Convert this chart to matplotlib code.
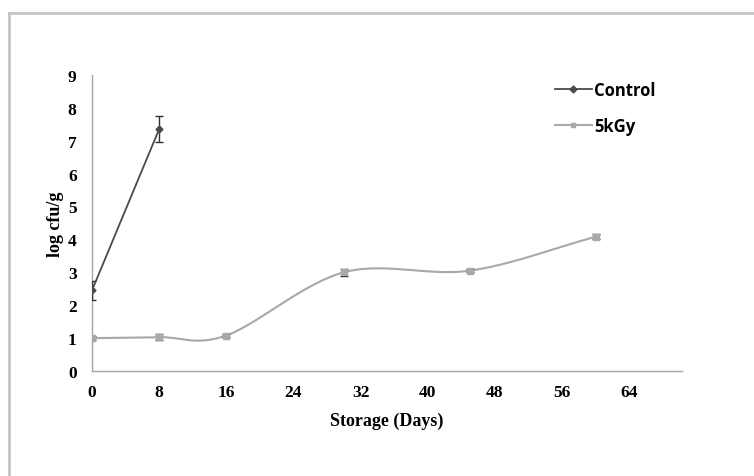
import matplotlib.pyplot as plt
import numpy as np
from matplotlib.lines import Line2D

# data
ctrl_days = [0, 8]
ctrl_vals = [2.45, 7.35]
ctrl_err = [0.3, 0.4]

irr_days = [0, 8, 16, 30, 45, 60]
irr_vals = [1.0, 1.03, 1.08, 3.0, 3.05, 4.08]
irr_err = [0.06, 0.1, 0.06, 0.1, 0.05, 0.08]

xticks = [0, 8, 16, 24, 32, 40, 48, 56, 64]


def smooth(xs, ys, n=30):
    # catmull-rom style curve, like the "smoothed line" option in Excel
    xs = np.asarray(xs, float)
    ys = np.asarray(ys, float)
    px = np.concatenate([[2 * xs[0] - xs[1]], xs, [2 * xs[-1] - xs[-2]]])
    py = np.concatenate([[2 * ys[0] - ys[1]], ys, [2 * ys[-1] - ys[-2]]])
    ox, oy = [], []
    t = np.linspace(0, 1, n)
    for i in range(1, len(px) - 2):
        for p, out in ((px, ox), (py, oy)):
            p0, p1, p2, p3 = p[i - 1], p[i], p[i + 1], p[i + 2]
            out.extend(0.5 * (2 * p1 + (-p0 + p2) * t
                              + (2 * p0 - 5 * p1 + 4 * p2 - p3) * t ** 2
                              + (-p0 + 3 * p1 - 3 * p2 + p3) * t ** 3))
    return ox, oy


fig = plt.figure(figsize=(7.54, 4.77), dpi=100)
ax = fig.add_axes([0.122, 0.22, 0.7825, 0.621])

# outer frame of the picture (only top and left edges are visible)
fig.add_artist(Line2D([8.5 / 754, 8.5 / 754], [0, 1 - 13.5 / 477], transform=fig.transFigure,
                      color='#c4c4c4', lw=2))
fig.add_artist(Line2D([8.5 / 754, 1], [1 - 13.5 / 477, 1 - 13.5 / 477], transform=fig.transFigure,
                      color='#c4c4c4', lw=2))

ax.errorbar(ctrl_days, ctrl_vals, yerr=ctrl_err, fmt='none', ecolor='#303030', elinewidth=1,
            capsize=3, zorder=3)
ax.plot(ctrl_days, ctrl_vals, color='#4a4a4a', lw=1.3, marker='D', ms=3.5, label='Control', zorder=4)

sx, sy = smooth(irr_days, irr_vals)
ax.plot(sx, sy, color='#a8a8a8', lw=1.5, zorder=2)
ax.errorbar(irr_days, irr_vals, yerr=irr_err, fmt='none', ecolor='#303030', elinewidth=1,
            capsize=3, zorder=3)
ax.plot(irr_days, irr_vals, ls='none', marker='s', ms=5, color='#a8a8a8', zorder=4)
ax.plot([], [], color='#a8a8a8', lw=1.5, marker='s', ms=3.5, label='5kGy')

ax.set_xlim(0, 70.3)
ax.set_ylim(0, 9)
ax.set_xticks(xticks)
ax.set_yticks(range(0, 10))
for s in ['top', 'right']:
    ax.spines[s].set_visible(False)
for s in ['left', 'bottom']:
    ax.spines[s].set_color('#a6a6a6')
    ax.spines[s].set_linewidth(1)
ax.tick_params(axis='y', length=0, pad=11)
ax.tick_params(axis='x', length=0, pad=9)
for lab in ax.get_xticklabels() + ax.get_yticklabels():
    lab.set_fontfamily('Liberation Serif')
    lab.set_fontweight('bold')
    lab.set_fontsize(12.5)

ax.set_xlabel('Storage (Days)', fontfamily='Liberation Serif', fontweight='bold', fontsize=13,
              labelpad=9)
ax.set_ylabel('log cfu/g', fontfamily='Liberation Serif', fontweight='bold', fontsize=13,
              labelpad=3)

leg = ax.legend(loc='upper left', bbox_to_anchor=(555 / 754, 1 - 82 / 477), bbox_transform=fig.transFigure,
                frameon=False, handlelength=2.2, handletextpad=0.15, labelspacing=1.05,
                borderpad=0, borderaxespad=0,
                prop={'family': 'Open Sans', 'weight': 'bold', 'size': 12})

fig.savefig('out.png', dpi=100)
